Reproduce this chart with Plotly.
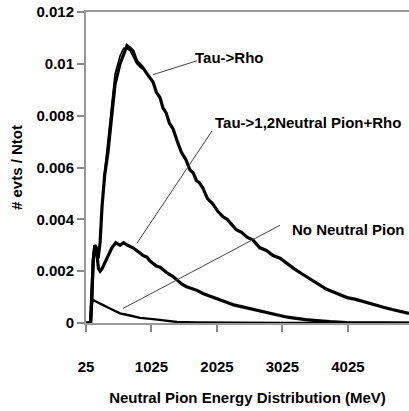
import plotly.graph_objects as go

# Energy (MeV) and normalized counts
rho_x = [25, 95, 115, 135, 160, 185, 210, 240, 270, 310, 361, 422, 468, 544, 600, 651, 700, 743, 800,
         880, 960, 1048, 1100, 1155, 1200, 1250, 1300, 1353, 1420, 1480, 1550, 1613, 1660, 1711, 1760,
         1811, 1880, 1960, 2040, 2117, 2180, 2250, 2320, 2400, 2490, 2575, 2680, 2780, 2880, 2987,
         3090, 3200, 3320, 3445, 3570, 3700, 3850, 4010, 4130, 4250, 4360, 4469, 4580, 4700, 4830, 4957]
rho_y = [0, 0, 0.0012, 0.0024, 0.0030, 0.0029, 0.0025, 0.0031, 0.0045, 0.0057, 0.0066, 0.0080, 0.0092,
         0.0100, 0.0104, 0.0107, 0.0106, 0.0105, 0.0101, 0.0099, 0.0096, 0.0093, 0.0089, 0.0087,
         0.0083, 0.0081, 0.0077, 0.0075, 0.0070, 0.0066, 0.0063, 0.0059, 0.0058, 0.0055, 0.0054,
         0.0052, 0.0048, 0.0046, 0.0043, 0.0041, 0.0040, 0.0038, 0.0036, 0.0035, 0.0033, 0.0032,
         0.0029, 0.0028, 0.0026, 0.0025, 0.0023, 0.0021, 0.0019, 0.0017, 0.0015, 0.0013, 0.00115,
         0.00098, 0.00092, 0.00083, 0.00074, 0.00068, 0.00060, 0.00052, 0.00046, 0.00037]

rho2_x = [300, 361, 422, 468, 544, 600, 651, 700, 743, 800, 880]
rho2_y = [0.0056, 0.0071, 0.0086, 0.0096, 0.0103, 0.0106, 0.0106, 0.0105, 0.0103, 0.0100, 0.0098]

pi12_x = [25, 95, 115, 135, 160, 185, 215, 240, 270, 310, 360, 420, 480, 544, 600, 660, 743, 800, 850,
          900, 956, 1000, 1050, 1100, 1155, 1220, 1280, 1350, 1414, 1490, 1560, 1640, 1720, 1810,
          1900, 1980, 2071, 2180, 2280, 2380, 2483, 2560, 2650, 2740, 2835, 2940, 3050, 3150,
          3247, 3380, 3500, 3620, 3750, 4000, 4500, 4957]
pi12_y = [0, 0, 0.0010, 0.0024, 0.0030, 0.0028, 0.0021, 0.0020, 0.0021, 0.0023, 0.0026, 0.0029,
          0.0031, 0.0030, 0.0031, 0.0030, 0.0029, 0.0028, 0.0027, 0.0026, 0.00254, 0.0024, 0.0023,
          0.0022, 0.00215, 0.0020, 0.0019, 0.0018, 0.00165, 0.0015, 0.0014, 0.00134, 0.00126,
          0.00114, 0.00105, 0.00097, 0.00087, 0.00079, 0.0007, 0.00064, 0.00056, 0.00052, 0.00046,
          0.00041, 0.00037, 0.00031, 0.00025, 0.00021, 0.00017, 0.00013, 0.0001, 0.00007, 0.00005,
          0.00002, 0.00001, 0]

nopi_x = [25, 95, 110, 125, 162, 208, 280, 391, 544, 697, 850, 1048, 1250, 1414, 1700, 2200, 3000, 4957]
nopi_y = [0, 0, 0.0006, 0.0009, 0.00085, 0.0008, 0.0007, 0.00056, 0.00037, 0.00029, 0.0002,
          0.00015, 0.0001, 0.00004, 0.00002, 0.00001, 0, 0]

x_ticks = [25, 1025, 2025, 3025, 4025]
y_ticks = [0, 0.002, 0.004, 0.006, 0.008, 0.01, 0.012]
y_tick_text = ["0", "0.002", "0.004", "0.006", "0.008", "0.01", "0.012"]

labels = ["Tau->Rho", "Tau->1,2Neutral Pion+Rho", "No Neutral Pion"]
label_pos = [(1659, 0.01024), (1964, 0.00773), (3140, 0.00362)]
leader_from = [(1720, 0.01012), (1949, 0.00741), (2987, 0.00377)]
leader_to = [(1048, 0.00958), (804, 0.00308), (590, 0.00056)]

FONT = "Liberation Sans, Arial, sans-serif"
FS = 15

fig = go.Figure()
fig.add_trace(go.Scatter(x=rho_x, y=rho_y, mode="lines", line=dict(color="black", width=3.2),
                         name=labels[0]))
fig.add_trace(go.Scatter(x=rho2_x, y=rho2_y, mode="lines", line=dict(color="black", width=1.6),
                         name=labels[0] + " (2)"))
fig.add_trace(go.Scatter(x=pi12_x, y=pi12_y, mode="lines", line=dict(color="black", width=3.2),
                         name=labels[1]))
fig.add_trace(go.Scatter(x=nopi_x, y=nopi_y, mode="lines", line=dict(color="black", width=2.4),
                         name=labels[2]))

for (x0, y0), (x1, y1) in zip(leader_from, leader_to):
    fig.add_shape(type="line", xref="x", yref="y", x0=x0, y0=y0, x1=x1, y1=y1,
                  line=dict(color="#444", width=1))

for txt, (tx, ty) in zip(labels, label_pos):
    fig.add_annotation(x=tx, y=ty, xref="x", yref="y", text=txt, showarrow=False,
                       xanchor="left", yanchor="middle",
                       font=dict(family=FONT, size=FS, color="black", weight="bold"))

fig.update_layout(
    width=409, height=411,
    margin=dict(l=86, r=0, t=12, b=88),
    paper_bgcolor="white", plot_bgcolor="white",
    showlegend=False,
    font=dict(family=FONT, size=FS, color="black", weight="bold"),
    xaxis=dict(
        range=[25, 4957], tickvals=x_ticks, ticktext=[str(v) for v in x_ticks],
        showgrid=False, zeroline=False, showline=True, linecolor="#999", linewidth=2,
        mirror=True, ticks="outside", ticklen=7, tickwidth=1.5, tickcolor="#888",
        ticklabelstandoff=22,
        title=dict(text="Neutral Pion Energy Distribution (MeV)", standoff=18,
                   font=dict(family=FONT, size=FS, weight="bold")),
        automargin=False,
    ),
    yaxis=dict(
        range=[0, 0.012], tickvals=y_ticks, ticktext=y_tick_text,
        showgrid=False, zeroline=False, showline=True, linecolor="#999", linewidth=2,
        ticks="outside", ticklen=7, tickwidth=1.5, tickcolor="#888",
        title=dict(text="# evts / Ntot", standoff=10,
                   font=dict(family=FONT, size=FS, weight="bold")),
        automargin=False,
    ),
)

fig.write_html("out.html")
